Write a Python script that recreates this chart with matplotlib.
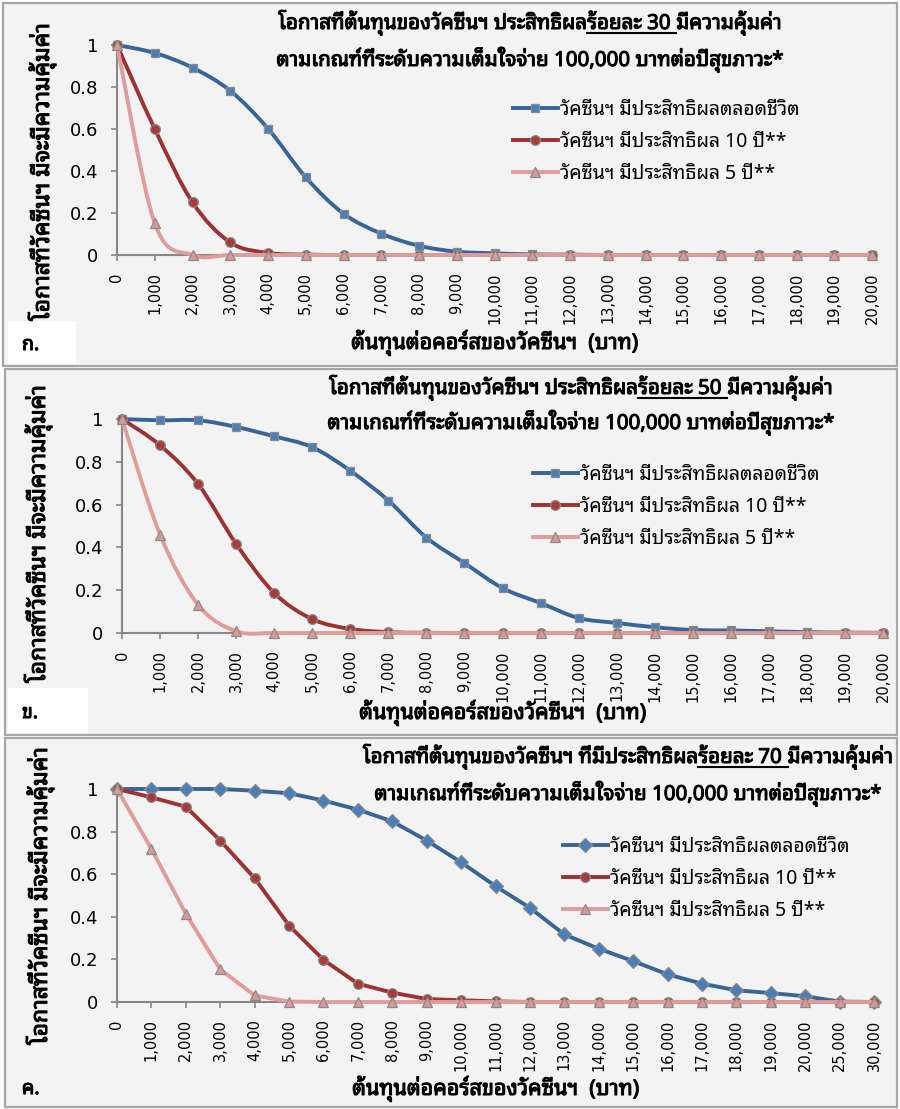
import numpy as np
import matplotlib
matplotlib.use('Agg')
import matplotlib.pyplot as plt
import matplotlib.patheffects as pe
from matplotlib.path import Path
from matplotlib.patches import PathPatch, Rectangle
from matplotlib.lines import Line2D

THAI = ['Noto Sans Thai Looped', 'DejaVu Sans']
plt.rcParams['font.family'] = THAI

# ---- data ----
cost_20k = ['0', '1,000', '2,000', '3,000', '4,000', '5,000', '6,000', '7,000', '8,000', '9,000',
            '10,000', '11,000', '12,000', '13,000', '14,000', '15,000', '16,000', '17,000',
            '18,000', '19,000', '20,000']
cost_30k = cost_20k + ['25,000', '30,000']

# ก. efficacy 30%
a_life = [1, 0.962, 0.892, 0.782, 0.602, 0.370, 0.197, 0.102, 0.044, 0.016, 0.008, 0.003,
          0.002, 0, 0, 0, 0, 0, 0, 0, 0]
a_10y = [1, 0.600, 0.251, 0.060, 0.010, 0.002, 0, 0, 0, 0, 0, 0, 0, 0, 0, 0, 0, 0, 0, 0, 0]
a_5y = [1, 0.151, 0, 0, 0, 0, 0, 0, 0, 0, 0, 0, 0, 0, 0, 0, 0, 0, 0, 0, 0]

# ข. efficacy 50%
b_life = [1, 0.994, 0.994, 0.963, 0.919, 0.868, 0.758, 0.619, 0.446, 0.327, 0.210, 0.140,
          0.070, 0.047, 0.027, 0.014, 0.012, 0.008, 0.004, 0.002, 0.001]
b_10y = [1, 0.877, 0.696, 0.416, 0.187, 0.065, 0.019, 0.004, 0.001, 0, 0, 0, 0, 0, 0, 0, 0,
         0, 0, 0, 0]
b_5y = [1, 0.460, 0.132, 0.008, 0, 0, 0, 0, 0, 0, 0, 0, 0, 0, 0, 0, 0, 0, 0, 0, 0]

# ค. efficacy 70%
c_life = [1, 1.0, 1.0, 1.0, 0.992, 0.980, 0.946, 0.903, 0.848, 0.758, 0.656, 0.544, 0.442,
          0.317, 0.250, 0.192, 0.130, 0.086, 0.055, 0.042, 0.027, 0.002, 0]
c_10y = [1, 0.961, 0.917, 0.758, 0.581, 0.359, 0.198, 0.086, 0.044, 0.014, 0.008, 0.003, 0,
         0, 0, 0, 0, 0, 0, 0, 0, 0, 0]
c_5y = [1, 0.719, 0.414, 0.153, 0.031, 0.002, 0, 0, 0, 0, 0, 0, 0, 0, 0, 0, 0, 0, 0, 0, 0,
        0, 0]

series_names = ['วัคซีนฯ มีประสิทธิผลตลอดชีวิต', 'วัคซีนฯ มีประสิทธิผล 10 ปี**',
                'วัคซีนฯ มีประสิทธิผล 5 ปี**']
title_pre = ['โอกาสที่ต้นทุนของวัคซีนฯ ประสิทธิผล', 'โอกาสที่ต้นทุนของวัคซีนฯ ประสิทธิผล',
             'โอกาสที่ต้นทุนของวัคซีนฯ ที่มีประสิทธิผล']
title_pct = ['ร้อยละ 30', 'ร้อยละ 50', 'ร้อยละ 70']
title_post = 'มีความคุ้มค่า'
title_line2 = 'ตามเกณฑ์ที่ระดับความเต็มใจจ่าย 100,000 บาทต่อปีสุขภาวะ*'
ylabel = 'โอกาสที่วัคซีนฯ มีจะมีความคุ้มค่า'
xlabel = 'ต้นทุนต่อคอร์สของวัคซีนฯ  (บาท)'
panel_tags = ['ก.', 'ข.', 'ค.']

W, H = 900, 1109
BG = '#f3f3f3'
EDGE = '#a6a6a6'
AXC = '#878787'
LINE_COL = ['#386599', '#9d3232', '#e09c9a']
MARK_COL = ['#4a7ebb', '#a83a38', '#dc9896']
MARKERS = [['s', 'o', '^'], ['s', 'o', '^'], ['D', 'o', '^']]
MSIZE = {'s': 6.4, 'o': 7.0, '^': 7.4, 'D': 7.2}
BOLD = [pe.withStroke(linewidth=0.75, foreground='black')]
TFS = 14.8

fig = plt.figure(figsize=(W / 100, H / 100), dpi=100)
fig.patch.set_facecolor('white')


def fx(px):
    return px / W


def fy(py):
    return 1 - py / H


def smooth_path(x, y):
    # Bezier curve through the points (Excel style smoothed line)
    n = len(x)
    verts = [(x[0], y[0])]
    codes = [Path.MOVETO]
    for i in range(n - 1):
        a = max(i - 1, 0)
        d = min(i + 2, n - 1)
        c1 = (x[i] + (x[i + 1] - x[a]) / 6, y[i] + (y[i + 1] - y[a]) / 6)
        c2 = (x[i + 1] - (x[d] - x[i]) / 6, y[i + 1] - (y[d] - y[i]) / 6)
        verts += [c1, c2, (x[i + 1], y[i + 1])]
        codes += [Path.CURVE4] * 3
    return Path(verts, codes)


def bold_text(x, y, s, fs, **kw):
    return fig.text(x, y, s, fontsize=fs, fontweight='bold', path_effects=BOLD, **kw)


def title_row(parts, xc, yb, fs=TFS):
    r = fig.canvas.get_renderer()
    ts = [bold_text(0, 0, p, fs, va='baseline') for p in parts]
    ws = [t.get_window_extent(r).width for t in ts]
    space = fs * 100 / 72 * 0.28
    gaps = [0, space, 0]
    total = sum(ws) + sum(gaps[:len(ws) - 1])
    x = xc - total / 2
    for i, (t, w) in enumerate(zip(ts, ws)):
        t.set_position((fx(x), fy(yb)))
        if i == 1:
            fig.add_artist(Line2D([fx(x), fx(x + w + space)], [fy(yb + 4), fy(yb + 4)],
                                  color='black', lw=1.5))
        x += w + gaps[i]


def panel(k, rect, axbox, cats, data, smooth, title_xc, title_y, leg_xy, xlab_y, ylab_x, ylab_yc,
          tag_box, tag_xy):
    x0, y0, x1, y1 = rect
    fig.add_artist(Rectangle((fx(x0), fy(y1)), fx(x1 - x0), (y1 - y0) / H, facecolor=BG,
                             edgecolor=EDGE, lw=1.6, transform=fig.transFigure, zorder=0))
    if tag_box is not None:
        bx0, by0, bx1, by1 = tag_box
        fig.add_artist(Rectangle((fx(bx0), fy(by1)), fx(bx1 - bx0), (by1 - by0) / H,
                                 facecolor='white', edgecolor='none', transform=fig.transFigure,
                                 zorder=0.5))
    bold_text(fx(tag_xy[0]), fy(tag_xy[1]), panel_tags[k], 14, va='center', ha='left')

    ax_l, ax_t, ax_r, ax_b = axbox
    ax = fig.add_axes([fx(ax_l), fy(ax_b), fx(ax_r - ax_l), (ax_b - ax_t) / H])
    ax.set_facecolor('none')
    n = len(cats)
    xs = np.arange(n)
    handles = []
    for j, vals in enumerate(data):
        mk = MARKERS[k][j]
        if smooth:
            ax.add_patch(PathPatch(smooth_path(xs, vals), fill=False, edgecolor=LINE_COL[j],
                                   lw=2.8, clip_on=False, capstyle='round', joinstyle='round',
                                   zorder=3 + j))
            ax.plot(xs, vals, ls='none', marker=mk, ms=MSIZE[mk], mfc=MARK_COL[j], mec='#8a8a8a',
                    mew=0.9, clip_on=False, zorder=3 + j)
        else:
            ax.plot(xs, vals, color=LINE_COL[j], lw=2.8, marker=mk, ms=MSIZE[mk],
                    mfc=MARK_COL[j], mec='#8a8a8a', mew=0.9, clip_on=False, zorder=3 + j,
                    solid_joinstyle='round')
        handles.append(Line2D([], [], color=LINE_COL[j], lw=2.8, marker=mk, ms=MSIZE[mk],
                              mfc=MARK_COL[j], mec='#8a8a8a', mew=0.9))
    ax.set_xlim(0, n - 1)
    ax.set_ylim(0, 1)
    ax.set_xticks(xs)
    ax.set_xticklabels(cats, rotation=90, family='DejaVu Sans', fontsize=10.5)
    ax.set_yticks([0, 0.2, 0.4, 0.6, 0.8, 1])
    ax.set_yticklabels(['0', '0.2', '0.4', '0.6', '0.8', '1'], family='DejaVu Sans', fontsize=13)
    for s in ['top', 'right']:
        ax.spines[s].set_visible(False)
    for s in ['left', 'bottom']:
        ax.spines[s].set_color(AXC)
        ax.spines[s].set_linewidth(1.5)
    ax.tick_params(axis='both', color=AXC, width=1.2, length=4.5, direction='out')
    ax.tick_params(axis='x', pad=8)
    ax.tick_params(axis='y', pad=9)

    title_row([title_pre[k], title_pct[k], title_post], title_xc, title_y[0])
    bold_text(fx(title_xc), fy(title_y[1]), title_line2, TFS, ha='center', va='baseline')

    bold_text(fx((ax_l + ax_r) / 2), fy(xlab_y), xlabel, 15.5, ha='center', va='center')
    bold_text(fx(ylab_x), fy(ylab_yc), ylabel, 16.5, rotation=90, ha='center', va='center')

    ax.legend(handles, series_names, loc='center left', frameon=False,
              bbox_to_anchor=(fx(leg_xy[0]), fy(leg_xy[1])),
              bbox_transform=fig.transFigure, fontsize=14, handlelength=2.3,
              handletextpad=0.1, borderpad=0, borderaxespad=0, labelspacing=0.62)
    return ax


panel(0, (3, 3, 897, 366), (117, 45, 872, 255), cost_20k, [a_life, a_10y, a_5y], True,
      530, (29, 66), (513, 142), 343, 42, 172, (8, 321, 76, 364), (22, 345))
panel(1, (5, 369, 897, 735), (122, 419, 883, 633), cost_20k, [b_life, b_10y, b_5y], True,
      581, (394, 429), (533, 507), 713, 38, 534, (8, 688, 88, 733), (22, 713))
panel(2, (5, 738, 897, 1107), (117, 789, 874, 1002), cost_30k, [c_life, c_10y, c_5y], False,
      628, (763, 800), (563, 879), 1089, 40, 896, None, (22, 1089))

fig.savefig('out.png', dpi=100, facecolor='white')
